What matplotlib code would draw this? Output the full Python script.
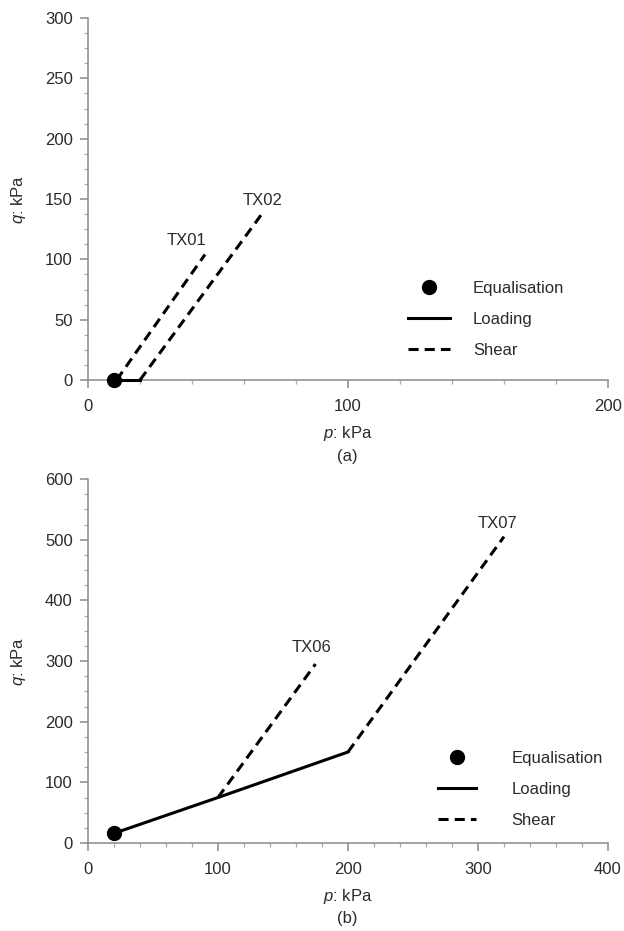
# Ścieżki naprężeń p-q dla badań trójosiowych (a) TX01/TX02, (b) TX06/TX07

import matplotlib
matplotlib.use('Agg')
import matplotlib.pyplot as plt
from matplotlib.lines import Line2D
from matplotlib.ticker import AutoMinorLocator, MultipleLocator

plt.rcParams['font.family'] = ['Liberation Sans', 'DejaVu Sans']
plt.rcParams['mathtext.fontset'] = 'custom'
plt.rcParams['mathtext.rm'] = 'Liberation Sans'
plt.rcParams['mathtext.it'] = 'Liberation Sans:italic'

# panel (a)
eq_a_p = [10]
eq_a_q = [0]
load_a_p = [10, 20]
load_a_q = [0, 0]
tx01_p = [11, 45]
tx01_q = [0, 104]
tx02_p = [20, 67]
tx02_q = [0, 138]

# panel (b)
eq_b_p = [20]
eq_b_q = [16]
load_b_p = [20, 100, 200]
load_b_q = [16, 75, 150]
tx06_p = [100, 175]
tx06_q = [75, 295]
tx07_p = [200, 320]
tx07_q = [150, 505]

nazwy_legendy = ['Equalisation', 'Loading', 'Shear']

KOLOR_TEKSTU = '#2b2b2b'
KOLOR_OSI = '#8a8a8a'
KRESKI = (0, (3.3, 2))
LW = 2.2


def ustaw_osie(ax, xmax, ymax, krok_x, krok_y):
    ax.set_xlim(0, xmax)
    ax.set_ylim(0, ymax)
    ax.xaxis.set_major_locator(MultipleLocator(krok_x))
    ax.yaxis.set_major_locator(MultipleLocator(krok_y))
    ax.xaxis.set_minor_locator(AutoMinorLocator(5))
    ax.yaxis.set_minor_locator(AutoMinorLocator(4))
    for s in ['top', 'right']:
        ax.spines[s].set_visible(False)
    for s in ['left', 'bottom']:
        ax.spines[s].set_color(KOLOR_OSI)
        ax.spines[s].set_linewidth(1.1)
    ax.tick_params(which='major', length=6, width=1.1, color=KOLOR_OSI,
                   labelsize=12, labelcolor=KOLOR_TEKSTU, pad=5)
    ax.tick_params(axis='x', which='major', pad=8)
    ax.tick_params(which='minor', length=3, width=0.9, color='#aaaaaa')
    ax.set_xlabel('$p$: kPa', fontsize=12, color=KOLOR_TEKSTU, labelpad=7)
    ax.set_ylabel('$q$: kPa', fontsize=12, color=KOLOR_TEKSTU, labelpad=12)


def legenda(ax, x, y, dl_uchwytu, odstep):
    uchwyty = [
        Line2D([], [], color='black', marker='o', markersize=10, linestyle='none'),
        Line2D([], [], color='black', linewidth=LW),
        Line2D([], [], color='black', linewidth=LW, linestyle=KRESKI),
    ]
    ax.legend(uchwyty, nazwy_legendy, loc='upper left', bbox_to_anchor=(x, y),
              bbox_transform=ax.figure.transFigure, frameon=False, fontsize=12,
              handlelength=dl_uchwytu, handletextpad=odstep, labelspacing=0.95,
              borderpad=0, borderaxespad=0, labelcolor=KOLOR_TEKSTU)


fig = plt.figure(figsize=(6.24, 9.31), dpi=100)
ax_a = fig.add_axes([88 / 624, 1 - 380 / 931, 520 / 624, 362 / 931])
ax_b = fig.add_axes([88 / 624, 1 - 843 / 931, 520 / 624, 364 / 931])

# (a)
ustaw_osie(ax_a, 200, 300, 100, 50)
ax_a.plot(load_a_p, load_a_q, color='black', linewidth=LW, clip_on=False, zorder=4)
ax_a.plot(tx01_p, tx01_q, color='black', linewidth=LW, linestyle=KRESKI, zorder=4)
ax_a.plot(tx02_p, tx02_q, color='black', linewidth=LW, linestyle=KRESKI, zorder=4)
ax_a.plot(eq_a_p, eq_a_q, 'o', color='black', markersize=10, clip_on=False, zorder=5)
ax_a.text(38, 116, 'TX01', fontsize=12, color=KOLOR_TEKSTU, ha='center', va='center')
ax_a.text(67, 149, 'TX02', fontsize=12, color=KOLOR_TEKSTU, ha='center', va='center')
legenda(ax_a, 408 / 624, 1 - 281 / 931, 2.5, 1.4)
fig.text(347 / 624, 1 - 457 / 931, '(a)', fontsize=12, color=KOLOR_TEKSTU,
         ha='center', va='center')

# (b)
ustaw_osie(ax_b, 400, 600, 100, 100)
ax_b.plot(load_b_p, load_b_q, color='black', linewidth=LW, zorder=4)
ax_b.plot(tx06_p, tx06_q, color='black', linewidth=LW, linestyle=KRESKI, zorder=4)
ax_b.plot(tx07_p, tx07_q, color='black', linewidth=LW, linestyle=KRESKI, zorder=4)
ax_b.plot(eq_b_p, eq_b_q, 'o', color='black', markersize=10, clip_on=False, zorder=5)
ax_b.text(172, 323, 'TX06', fontsize=12, color=KOLOR_TEKSTU, ha='center', va='center')
ax_b.text(315, 527, 'TX07', fontsize=12, color=KOLOR_TEKSTU, ha='center', va='center')
legenda(ax_b, 438 / 624, 1 - 751 / 931, 2.3, 2.1)
fig.text(347 / 624, 1 - 918 / 931, '(b)', fontsize=12, color=KOLOR_TEKSTU,
         ha='center', va='center')

fig.savefig('out.png', dpi=100)
